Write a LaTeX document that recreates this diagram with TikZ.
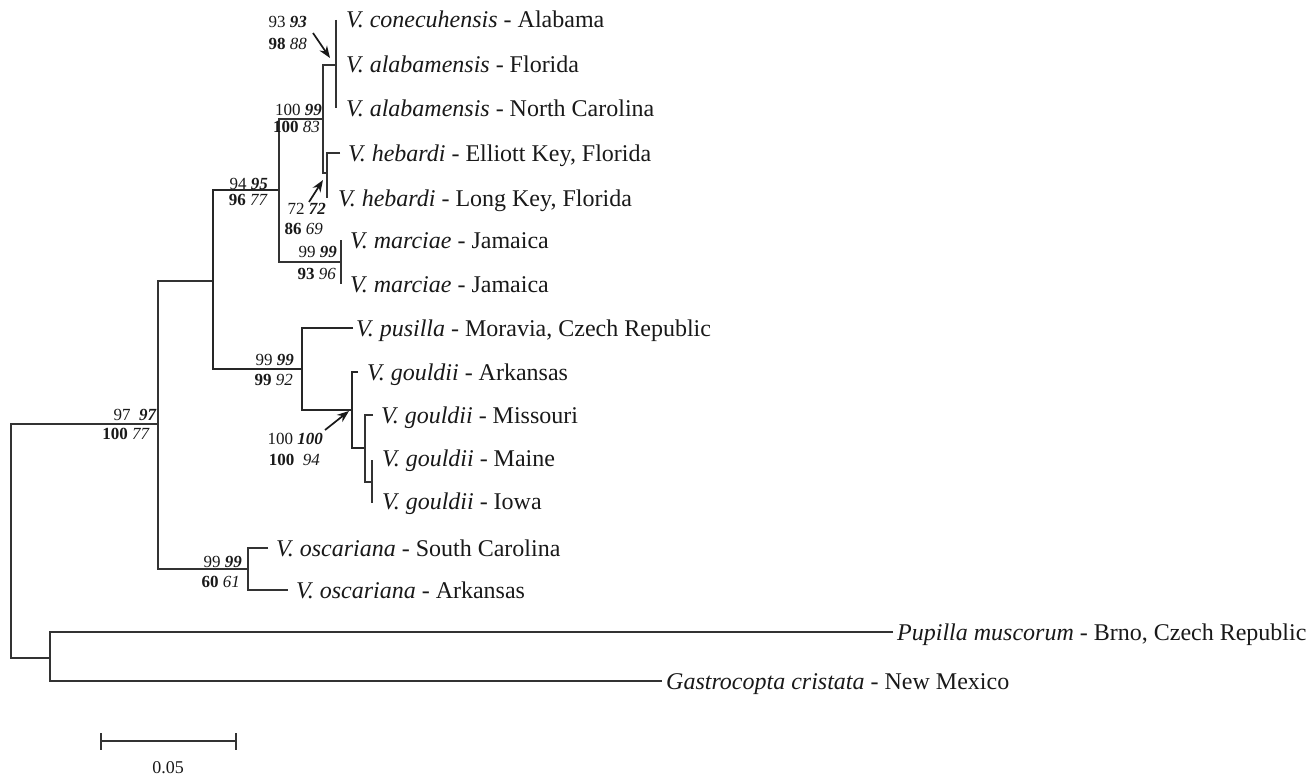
\documentclass[tikz,border=0pt]{standalone}
\usepackage{fontspec}
\setmainfont{Liberation Serif}
\usetikzlibrary{arrows.meta}
\begin{document}
\begin{tikzpicture}[x=1pt,y=-1pt,
  br/.style={line width=1.6pt, draw=black!80, line join=miter},
  thinbr/.style={line width=1.2pt, draw=black!80, line join=miter},
  thickbr/.style={line width=2.1pt, draw=black!85, line join=miter},
  tiplab/.style={anchor=base west, inner sep=0pt, text=black!90, font=\fontsize{24}{28}\selectfont},
  supl/.style={anchor=base east, inner sep=0pt, text=black!90, font=\fontsize{17}{20}\selectfont},
  arr/.style={-{Stealth[length=12pt,width=9pt]}, line width=1.7pt, draw=black!90, fill=black!90},
  scl/.style={inner sep=0pt, text=black!90, font=\fontsize{18}{21}\selectfont}
]
\useasboundingbox (0,0) rectangle (1310,776);
\fill[white] (0,0) rectangle (1310,776);

% ---------- coordinates ----------
\coordinate (r1) at (11,424);   \coordinate (r2) at (11,658);
\coordinate (ingM) at (158,424);
\coordinate (ingT) at (158,281); \coordinate (ingB) at (158,569);
\coordinate (aT) at (213,190);  \coordinate (aB) at (213,369); \coordinate (aM) at (213,281);
\coordinate (bT) at (279,119);  \coordinate (bB) at (279,262); \coordinate (bM) at (279,190);
\coordinate (cT) at (323,65);   \coordinate (cB) at (323,173); \coordinate (cM) at (323,119);
\coordinate (alT) at (336,20);  \coordinate (alB) at (336,108); \coordinate (alM) at (336,65);
\coordinate (hT) at (327,153);  \coordinate (hB) at (327,198); \coordinate (hM) at (327,173);
\coordinate (eEll) at (340,153);
\coordinate (mT) at (341,240);  \coordinate (mB) at (341,284); \coordinate (mM) at (341,262);
\coordinate (pT) at (302,328);  \coordinate (pB) at (302,410); \coordinate (pM) at (302,369);
\coordinate (ePus) at (353,328);
\coordinate (gT) at (352,372);  \coordinate (gB) at (352,448); \coordinate (gM) at (352,410);
\coordinate (eGA) at (358,372);
\coordinate (g2T) at (365,415); \coordinate (g2B) at (365,482); \coordinate (g2M) at (365,448);
\coordinate (eGM) at (373,415);
\coordinate (g3T) at (372,460); \coordinate (g3B) at (372,503); \coordinate (g3M) at (372,482);
\coordinate (oT) at (248,548);  \coordinate (oB) at (248,590); \coordinate (oM) at (248,569);
\coordinate (eOS) at (268,548); \coordinate (eOA) at (288,590);
\coordinate (outT) at (50,632); \coordinate (outB) at (50,681); \coordinate (outM) at (50,658);
\coordinate (ePup) at (893,632); \coordinate (eGas) at (662,681);

% ---------- branches ----------
\draw[br] (ingM) -- (r1) -- (r2) -- (outM);
\draw[br] (aM) -- (ingT) -- (ingB) -- (oM);
\draw[thickbr] (bM) -- (aT) -- (aB) -- (pM);
\draw[br] (cM) -- (bT) -- (bB) -- (mM);
\draw[thinbr] (alM) -- (cT) -- (cB) -- (hM);
\draw[thinbr] (alT) -- (alB);
\draw[thinbr] (eEll) -- (hT) -- (hB);
\draw[thinbr] (mT) -- (mB);
\draw[thickbr] (ePus) -- (pT) -- (pB) -- (gM);
\draw[thickbr] (eGA) -- (gT) -- (gB) -- (g2M);
\draw[thinbr] (eGM) -- (g2T) -- (g2B) -- (g3M);
\draw[thinbr] (g3T) -- (g3B);
\draw[br] (eOS) -- (oT) -- (oB) -- (eOA);
\draw[thinbr] (ePup) -- (outT) -- (outB) -- (eGas);

% ---------- tip labels ----------
\node[tiplab] (tAla) at (346,28) {\textit{V. conecuhensis} - Alabama};
\node[tiplab] (tFla) at (346,73) {\textit{V. alabamensis} - Florida};
\node[tiplab] (tNC)  at (346,116) {\textit{V. alabamensis} - North Carolina};
\node[tiplab] (tEll) at (348,161) {\textit{V. hebardi} - Elliott Key, Florida};
\node[tiplab] (tLK)  at (338,206) {\textit{V. hebardi} - Long Key, Florida};
\node[tiplab] (tJa1) at (350,248) {\textit{V. marciae} - Jamaica};
\node[tiplab] (tJa2) at (350,292) {\textit{V. marciae} - Jamaica};
\node[tiplab] (tPus) at (356,336) {\textit{V. pusilla} - Moravia, Czech Republic};
\node[tiplab] (tGAr) at (367,380) {\textit{V. gouldii} - Arkansas};
\node[tiplab] (tGMo) at (381,423) {\textit{V. gouldii} - Missouri};
\node[tiplab] (tGMa) at (382,466) {\textit{V. gouldii} - Maine};
\node[tiplab] (tGIo) at (382,509) {\textit{V. gouldii} - Iowa};
\node[tiplab] (tOSC) at (276,556) {\textit{V. oscariana} - South Carolina};
\node[tiplab] (tOAr) at (296,598) {\textit{V. oscariana} - Arkansas};
\node[tiplab] (tPup) at (897,640) {\textit{Pupilla muscorum} - Brno, Czech Republic};
\node[tiplab] (tGas) at (666,689) {\textit{Gastrocopta cristata} - New Mexico};

% ---------- support values ----------
\node[supl] (s1a) at (307,28) {93 \textbf{\textit{93}}};
\node[supl] (s1b) at (307,50) {\textbf{98} \textit{88}};
\node[supl] (s2a) at (322,115) {100 \textbf{\textit{99}}};
\node[supl] (s2b) at (320,132) {\textbf{100} \textit{83}};
\node[supl] (s3a) at (268,189) {94 \textbf{\textit{95}}};
\node[supl] (s3b) at (268,205) {\textbf{96} \textit{77}};
\node[supl] (s4a) at (326,214) {72 \textbf{\textit{72}}};
\node[supl] (s4b) at (323,234) {\textbf{86} \textit{69}};
\node[supl] (s5a) at (337,257) {99 \textbf{\textit{99}}};
\node[supl] (s5b) at (336,279) {\textbf{93} \textit{96}};
\node[supl] (s6a) at (294,365) {99 \textbf{\textit{99}}};
\node[supl] (s6b) at (293,385) {\textbf{99} \textit{92}};
\node[supl] (s7a) at (323,444) {100 \textbf{\textit{100}}};
\node[supl] (s7b) at (320,465) {\textbf{100}\ \ \textit{94}};
\node[supl] (s8a) at (157,420) {97\ \ \textbf{\textit{97}}};
\node[supl] (s8b) at (150,439) {\textbf{100} \textit{77}};
\node[supl] (s9a) at (242,567) {99 \textbf{\textit{99}}};
\node[supl] (s9b) at (240,587) {\textbf{60} \textit{61}};

% ---------- arrows ----------
\coordinate (a1s) at (313,33);  \coordinate (a1e) at (330,58);
\coordinate (a2s) at (309,202); \coordinate (a2e) at (323,180);
\coordinate (a3s) at (325,430); \coordinate (a3e) at (349,411);
\draw[arr] (a1s) -- (a1e);
\draw[arr] (a2s) -- (a2e);
\draw[arr] (a3s) -- (a3e);

% ---------- scale bar ----------
\coordinate (sbL) at (101,741); \coordinate (sbR) at (236,741);
\coordinate (sbLt) at (101,733); \coordinate (sbLb) at (101,750);
\coordinate (sbRt) at (236,733); \coordinate (sbRb) at (236,750);
\draw[br] (sbL) -- (sbR);
\draw[br] (sbLt) -- (sbLb);
\draw[br] (sbRt) -- (sbRb);
\node[scl] (sbLab) at (168,768) {0.05};
\end{tikzpicture}
\end{document}
